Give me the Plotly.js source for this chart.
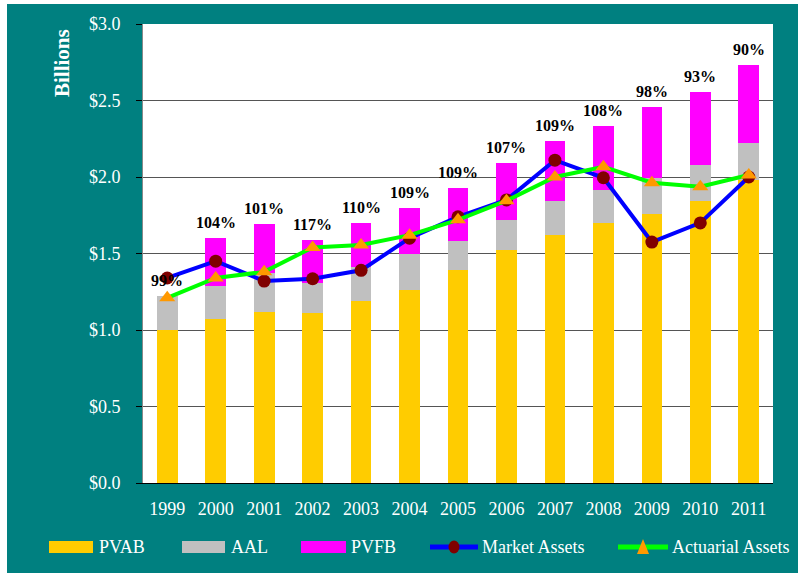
<!DOCTYPE html>
<html>
<head>
<meta charset="utf-8">
<script src="https://cdn.plot.ly/plotly-3.0.1.min.js"></script>
<style>html,body{margin:0;padding:0;background:#fff;}#chart{width:798px;height:573px;}</style>
</head>
<body>
<div id="chart"></div>
<script>
// Data (billions of dollars)
var years = ["1999","2000","2001","2002","2003","2004","2005","2006","2007","2008","2009","2010","2011"];
var pvab = [1.00, 1.07, 1.12, 1.11, 1.19, 1.26, 1.39, 1.52, 1.62, 1.70, 1.76, 1.84, 1.98];
var aal = [1.22, 1.29, 1.375, 1.31, 1.41, 1.495, 1.58, 1.72, 1.84, 1.915, 1.995, 2.08, 2.22];
var pvfb = [1.22, 1.60, 1.69, 1.59, 1.70, 1.80, 1.93, 2.09, 2.235, 2.335, 2.46, 2.555, 2.73];
var marketAssets = [1.34, 1.45, 1.32, 1.335, 1.39, 1.60, 1.74, 1.85, 2.11, 1.995, 1.575, 1.70, 2.00];
var actuarialAssets = [1.21, 1.34, 1.38, 1.54, 1.556, 1.62, 1.72, 1.845, 2.00, 2.067, 1.963, 1.937, 2.013];
var fundedRatio = ["99%","104%","101%","117%","110%","109%","109%","107%","109%","108%","98%","93%","90%"];
var seriesNames = ["PVAB", "AAL", "PVFB", "Market Assets", "Actuarial Assets"];

var FONT = '"Liberation Serif", "Times New Roman", serif';
var TEAL = "#008080";
var C = {pvab:"#FFCC00", aal:"#C0C0C0", pvfb:"#FF00FF", mLine:"#0000FF", mMark:"#800000", aLine:"#00FF00", aMark:"#FF9900"};

// stacked segments built from the cumulative values
var aalSeg = aal.map(function(v, i){ return v - pvab[i]; });
var pvfbSeg = pvfb.map(function(v, i){ return v - aal[i]; });

var traces = [
  {type:"bar", name:seriesNames[0], x:years, y:pvab, marker:{color:C.pvab}},
  {type:"bar", name:seriesNames[1], x:years, y:aalSeg, marker:{color:C.aal}},
  {type:"bar", name:seriesNames[2], x:years, y:pvfbSeg, marker:{color:C.pvfb}},
  {type:"scatter", mode:"lines+markers", name:seriesNames[3], x:years, y:marketAssets,
   line:{color:C.mLine, width:4},
   marker:{symbol:"circle", size:13, color:C.mMark}},
  {type:"scatter", mode:"lines+markers", name:seriesNames[4], x:years, y:actuarialAssets,
   line:{color:C.aLine, width:4},
   marker:{symbol:"triangle-up", size:14, color:C.aMark}}
];

// plot area in pixels: x 143..773, y 24..483
function px(x){ return (x - 143) / 630; }
function py(y){ return (483 - y) / 459; }

// funded-ratio labels above each stack (x given as category index)
var annotations = years.map(function(yr, i){
  return {x:i, y:pvfb[i], xref:"x", yref:"y", text:fundedRatio[i], showarrow:false,
          yanchor:"bottom", yshift:5,
          font:{family:FONT, size:16, color:"#000", weight:"bold"}};
});
annotations.push({xref:"paper", yref:"paper", x:px(62), y:py(63), xanchor:"center", yanchor:"middle",
  text:"<b>Billions</b>", textangle:-90, showarrow:false, font:{family:FONT, size:21, color:"#fff"}});

var shapes = [
  {type:"rect", xref:"paper", yref:"paper", x0:-1, x1:px(7), y0:-1, y1:2,
   fillcolor:"#fff", line:{width:0}, layer:"below"},
  {type:"rect", xref:"paper", yref:"paper", x0:-1, x1:2, y0:py(4), y1:2,
   fillcolor:"#fff", line:{width:0}, layer:"below"}
];

// legend drawn along the bottom
var LY = 547;
var legendItems = [
  {kind:"box", color:C.pvab, x0:49, x1:93, tx:97},
  {kind:"box", color:C.aal, x0:182, x1:225, tx:229},
  {kind:"box", color:C.pvfb, x0:301, x1:346, tx:349},
  {kind:"line", color:C.mLine, mark:C.mMark, sym:"circle", x0:430, x1:478, tx:480},
  {kind:"line", color:C.aLine, mark:C.aMark, sym:"tri", x0:618, x1:668, tx:670}
];
legendItems.forEach(function(it, k){
  if (it.kind === "box") {
    shapes.push({type:"rect", xref:"paper", yref:"paper", x0:px(it.x0), x1:px(it.x1),
      y0:py(LY+6), y1:py(LY-6), fillcolor:it.color, line:{width:0}, layer:"above"});
  } else {
    shapes.push({type:"line", xref:"paper", yref:"paper", x0:px(it.x0), x1:px(it.x1),
      y0:py(LY), y1:py(LY), line:{color:it.color, width:5}, layer:"above"});
    var cx = (it.x0 + it.x1) / 2;
    if (it.sym === "circle") {
      shapes.push({type:"circle", xref:"paper", yref:"paper", x0:px(cx-5.5), x1:px(cx+5.5),
        y0:py(LY+6.5), y1:py(LY-6.5), fillcolor:it.mark, line:{width:0}, layer:"above"});
    } else {
      shapes.push({type:"path", xref:"paper", yref:"paper",
        path:"M"+px(cx-6)+","+py(LY+7)+" L"+px(cx+6)+","+py(LY+7)+" L"+px(cx)+","+py(LY-8)+" Z",
        fillcolor:it.mark, line:{width:0}, layer:"above"});
    }
  }
  annotations.push({xref:"paper", yref:"paper", x:px(it.tx), y:py(LY), xanchor:"left", yanchor:"middle",
    text:seriesNames[k], showarrow:false, font:{family:FONT, size:18, color:"#fff"}});
});

var layout = {
  width:798, height:573,
  margin:{l:143, r:25, t:24, b:90},
  paper_bgcolor:TEAL,
  plot_bgcolor:"#fff",
  barmode:"stack",
  bargap:0.573,
  showlegend:false,
  font:{family:FONT, color:"#fff"},
  xaxis:{type:"category", range:[-0.5, 12.5], showgrid:false, showline:true, linecolor:"#000", linewidth:1,
         ticks:"", tickfont:{family:FONT, size:18, color:"#fff"}, ticklabelstandoff:9},
  yaxis:{range:[0,3], dtick:0.5, tickprefix:"$", tickformat:".1f",
         showgrid:true, gridcolor:"#555", gridwidth:1, zeroline:false,
         showline:true, linecolor:"#888", linewidth:1,
         ticks:"outside", ticklen:6, tickcolor:"#000",
         tickfont:{family:FONT, size:18, color:"#fff"}, ticklabelstandoff:12},
  shapes:shapes,
  annotations:annotations
};

Plotly.newPlot("chart", traces, layout, {displayModeBar:false, staticPlot:true});
</script>
</body>
</html>
